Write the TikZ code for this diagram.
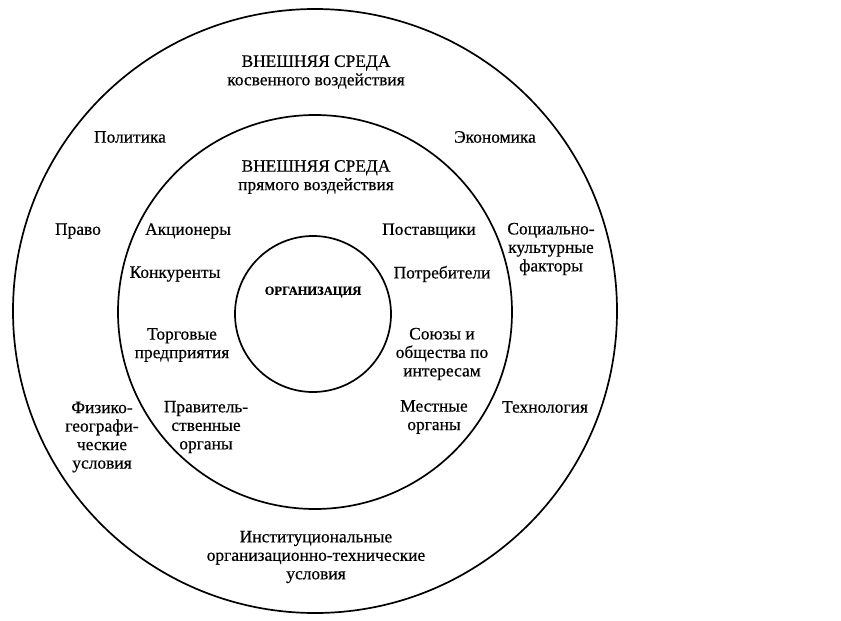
\documentclass[tikz,border=0pt]{standalone}
\usepackage{fontspec}
\setmainfont{Liberation Serif}[FakeBold=0.5]
\begin{document}
\begin{tikzpicture}[x=1pt,y=-1pt,
  ring/.style={circle, draw, line width=1.7pt, inner sep=0pt},
  lbl/.style={align=center, inner sep=0pt, font=\fontsize{17.4}{18.5}\selectfont},
  org/.style={align=center, inner sep=0pt, font=\fontsize{12.5}{14}\selectfont\bfseries}]
\useasboundingbox (0,0) rectangle (841,621);
\node[ring, minimum size=604pt] (outer) at (315,311) {};
\node[ring, minimum size=394pt] (middle) at (315,312) {};
\node[ring, minimum size=156pt] (inner) at (313,314) {};

\node[lbl] (t1) at (316,72) {ВНЕШНЯЯ СРЕДА\\косвенного воздействия};
\node[lbl] (t2) at (316,177) {ВНЕШНЯЯ СРЕДА\\прямого воздействия};
\node[lbl] (pol) at (130,137) {Политика};
\node[lbl] (eco) at (495,137) {Экономика};
\node[lbl] (pravo) at (78,231) {Право};
\node[lbl] (akc) at (188,231) {Акционеры};
\node[lbl] (post) at (429,231) {Поставщики};
\node[lbl] (soc) at (551,249) {Социально-\\культурные\\факторы};
\node[lbl] (konk) at (175,274) {Конкуренты};
\node[lbl] (potr) at (442,274) {Потребители};
\node[org] (orgn) at (313,292) {ОРГАНИЗАЦИЯ};
\node[lbl] (torg) at (182,345) {Торговые\\предприятия};
\node[lbl] (soyuz) at (442,354) {Союзы и\\общества по\\интересам};
\node[lbl] (prav) at (206,427) {Правитель-\\ственные\\органы};
\node[lbl] (mest) at (434,417) {Местные\\органы};
\node[lbl] (fiz) at (102,437) {Физико-\\географи-\\ческие\\условия};
\node[lbl] (tech) at (545,407) {Технология};
\node[lbl] (inst) at (316,557) {Институциональные\\организационно-технические\\условия};
\end{tikzpicture}
\end{document}
